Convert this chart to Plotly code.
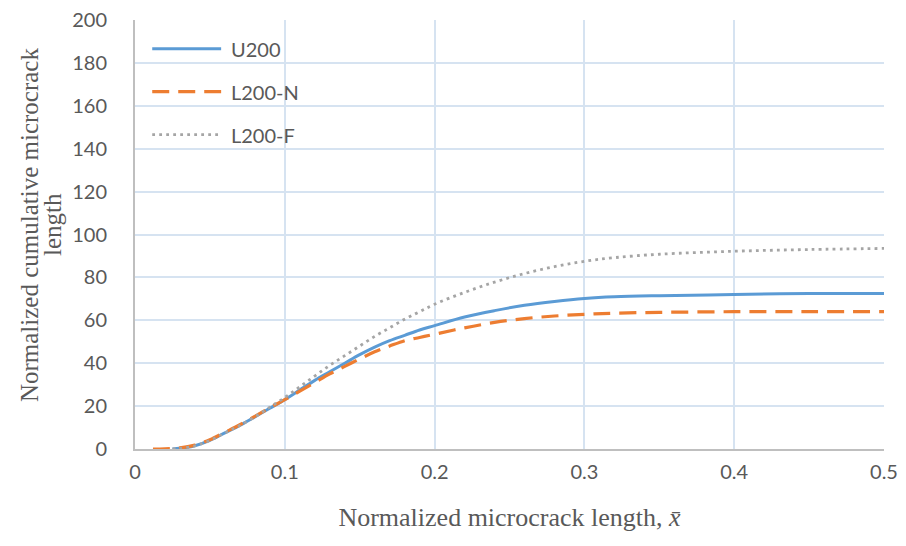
import plotly.graph_objects as go

# Normalized microcrack length and cumulative length for each case
x_u200 = [0.025, 0.03, 0.04, 0.05, 0.06, 0.07, 0.08, 0.09, 0.10, 0.11, 0.12, 0.13, 0.14,
          0.15, 0.16, 0.17, 0.18, 0.19, 0.20, 0.22, 0.24, 0.26, 0.28, 0.30, 0.32,
          0.35, 0.40, 0.45, 0.50]
y_u200 = [0.0, 0.3, 1.5, 4.0, 7.5, 11.0, 15.0, 19.0, 23.0, 27.5, 32.0, 36.0, 40.0,
          44.0, 47.5, 50.5, 53.0, 55.5, 57.5, 61.5, 64.5, 67.0, 68.8, 70.2, 71.0,
          71.5, 72.0, 72.5, 72.5]

x_l200n = [0.012, 0.02, 0.03, 0.04, 0.05, 0.06, 0.07, 0.08, 0.09, 0.10, 0.11, 0.12, 0.13,
           0.14, 0.15, 0.16, 0.17, 0.18, 0.19, 0.20, 0.22, 0.24, 0.26, 0.28, 0.30,
           0.32, 0.35, 0.40, 0.45, 0.50]
y_l200n = [0.0, 0.1, 0.5, 1.8, 4.3, 7.8, 11.3, 15.2, 19.2, 23.0, 27.0, 31.0, 35.0,
           38.5, 42.0, 45.3, 48.0, 50.5, 52.0, 53.5, 56.5, 59.0, 60.8, 62.0, 62.8,
           63.3, 63.7, 64.0, 64.0, 64.0]

x_l200f = [0.025, 0.03, 0.04, 0.05, 0.06, 0.07, 0.08, 0.09, 0.10, 0.11, 0.12, 0.13, 0.14,
           0.15, 0.16, 0.17, 0.18, 0.19, 0.20, 0.22, 0.24, 0.26, 0.28, 0.30, 0.32,
           0.35, 0.40, 0.45, 0.50]
y_l200f = [0.0, 0.3, 1.5, 4.0, 7.5, 11.0, 15.0, 19.5, 24.0, 29.0, 34.0, 39.0, 43.5,
           48.0, 52.5, 56.5, 60.5, 64.0, 67.5, 73.0, 77.8, 81.8, 85.0, 87.5, 89.2,
           90.8, 92.2, 93.0, 93.5]

x_ticks = [0, 0.1, 0.2, 0.3, 0.4, 0.5]
x_tick_labels = ["0", "0.1", "0.2", "0.3", "0.4", "0.5"]
y_ticks = [0, 20, 40, 60, 80, 100, 120, 140, 160, 180, 200]
y_title_lines = ["Normalized cumulative microcrack", "length"]

series = [
    ("U200", x_u200, y_u200, dict(color="#5B9BD5", width=3, dash="solid")),
    ("L200-N", x_l200n, y_l200n, dict(color="#ED7D31", width=3.2, dash="17px,9px")),
    ("L200-F", x_l200f, y_l200f, dict(color="#A5A5A5", width=2.8, dash="2.8px,4.2px")),
]

tick_font = dict(family="Lato, Open Sans, sans-serif", size=20, color="#595959")
xtitle_font = dict(family="Liberation Serif, Times New Roman, serif", size=26, color="#595959")
ytitle_font = dict(family="Liberation Serif, Times New Roman, serif", size=25, color="#595959")

fig = go.Figure()
for name, xs, ys, style in series:
    fig.add_trace(go.Scatter(x=xs, y=ys, mode="lines", name=name,
                             line=dict(shape="spline", **style), showlegend=False))

# Legend drawn in the upper-left corner of the plotting area
legend_top = 0.933
legend_step = 0.1
for i, (name, xs, ys, style) in enumerate(series):
    yy = legend_top - i * legend_step
    fig.add_shape(type="line", xref="paper", yref="paper",
                  x0=0.023, x1=0.115, y0=yy, y1=yy,
                  line=dict(color=style["color"], width=style["width"], dash=style["dash"]))
    fig.add_annotation(xref="paper", yref="paper", x=0.126, y=yy, text=name,
                       showarrow=False, xanchor="left", yanchor="middle", font=tick_font)

# Two-line vertical axis title with tight line spacing
for shift, line in zip([-106, -83], y_title_lines):
    fig.add_annotation(xref="paper", yref="paper", x=0, y=0.522, xshift=shift,
                       text=line, textangle=-90, showarrow=False,
                       xanchor="center", yanchor="middle", font=ytitle_font)

fig.update_layout(
    width=906, height=546,
    margin=dict(l=135, r=22, t=20, b=97, autoexpand=False),
    paper_bgcolor="white", plot_bgcolor="white",
    showlegend=False,
    xaxis=dict(range=[0, 0.5], tickvals=x_ticks, ticktext=x_tick_labels,
               showgrid=True, gridcolor="#D6E3F1", gridwidth=1.5,
               showline=True, linecolor="#BFBFBF", linewidth=2, automargin=False,
               ticks="", tickfont=tick_font, zeroline=False, ticklabelstandoff=4,
               title=dict(text="Normalized microcrack length, <i>x\u0304</i>",
                          font=xtitle_font, standoff=26)),
    yaxis=dict(range=[0, 200], tickvals=y_ticks,
               showgrid=True, gridcolor="#D6E3F1", gridwidth=1.5,
               showline=True, linecolor="#BFBFBF", linewidth=2, automargin=False,
               ticks="", tickfont=tick_font, zeroline=False, ticklabelstandoff=22),
)

fig.write_html("out.html")
